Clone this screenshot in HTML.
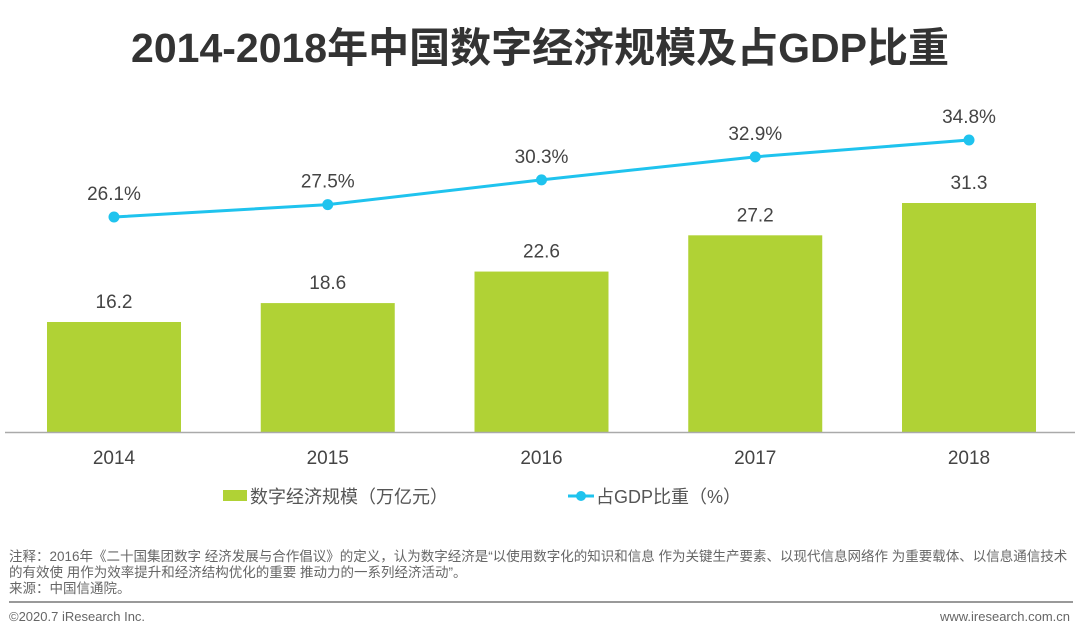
<!DOCTYPE html>
<html><head><meta charset="utf-8"><style>
body{margin:0;background:#fff;width:1080px;height:638px;overflow:hidden;font-family:"Liberation Sans","Noto Sans CJK SC",sans-serif}
.t{position:absolute;white-space:nowrap}
</style></head><body>
<div class="t" style="left:0;width:1080px;text-align:center;top:14px;font-size:41px;font-weight:bold;color:#333">2014-2018年中国数字经济规模及占GDP比重</div>
<svg id="c" width="1080" height="638" style="position:absolute;left:0;top:0"></svg>
<div class="t" style="left:9px;top:549px;font-size:13.5px;line-height:16px;color:#666">注释：2016年《二十国集团数字 经济发展与合作倡议》的定义，认为数字经济是“以使用数字化的知识和信息 作为关键生产要素、以现代信息网络作 为重要载体、以信息通信技术<br>的有效使 用作为效率提升和经济结构优化的重要 推动力的一系列经济活动”。<br>来源：中国信通院。</div>
<div style="position:absolute;left:9px;top:601px;width:1064px;height:2px;background:#999"></div>
<div class="t" style="left:9px;top:609px;font-size:13px;color:#666">©2020.7 iResearch Inc.</div>
<div class="t" style="right:10px;top:609px;font-size:13px;color:#666">www.iresearch.com.cn</div>
<script>
const years=["2014","2015","2016","2017","2018"];
const scale=[16.2,18.6,22.6,27.2,31.3];
const share=[26.1,27.5,30.3,32.9,34.8];
const shareLabels=["26.1%","27.5%","30.3%","32.9%","34.8%"];
const NS="http://www.w3.org/2000/svg";
const svg=document.getElementById('c');
function mk(t,a,p){const e=document.createElementNS(NS,t);for(const k in a)e.setAttribute(k,a[k]);(p||svg).appendChild(e);return e;}
const x=i=>114+i*213.75;
const yb=v=>432-(v-2.24)*7.88;
const yl=v=>448-v*8.85;
years.forEach((yr,i)=>{
  const r=mk('rect',{x:x(i)-67,y:yb(scale[i]),width:134,height:432-yb(scale[i]),fill:'#b0d235'});
  
  
  const t=mk('text',{x:x(i),y:yb(scale[i])-14,'text-anchor':'middle','font-size':19,fill:'#444'});
  t.textContent=scale[i].toFixed(1);
  
  
  const xl=mk('text',{x:x(i),y:464,'text-anchor':'middle','font-size':19,fill:'#444'});
  xl.textContent=yr;
  
  
});
const ax=mk('line',{x1:5,x2:1075,y1:432.5,y2:432.5,stroke:'#aaa','stroke-width':1.5});


const pl=mk('polyline',{points:share.map((v,i)=>x(i)+','+yl(v)).join(' '),fill:'none',stroke:'#1fc3ee','stroke-width':3});


share.forEach((v,i)=>{
  const c=mk('circle',{cx:x(i),cy:yl(v),r:5.5,fill:'#1fc3ee'});
  
  
  const t=mk('text',{x:x(i),y:yl(v)-17,'text-anchor':'middle','font-size':19,fill:'#444'});
  t.textContent=shareLabels[i];
  
  
});
const g1=mk('g',{});


mk('rect',{x:223,y:490,width:24,height:11,fill:'#b0d235'},g1);
const l1=mk('text',{x:250,y:503,'font-size':18,fill:'#555'},g1);l1.textContent='数字经济规模（万亿元）';
const g2=mk('g',{});


mk('line',{x1:568,x2:594,y1:496,y2:496,stroke:'#1fc3ee','stroke-width':3},g2);
mk('circle',{cx:581,cy:496,r:5,fill:'#1fc3ee'},g2);
const l2=mk('text',{x:596,y:503,'font-size':18,fill:'#555'},g2);l2.textContent='占GDP比重（%）';
</script>
</body></html>
